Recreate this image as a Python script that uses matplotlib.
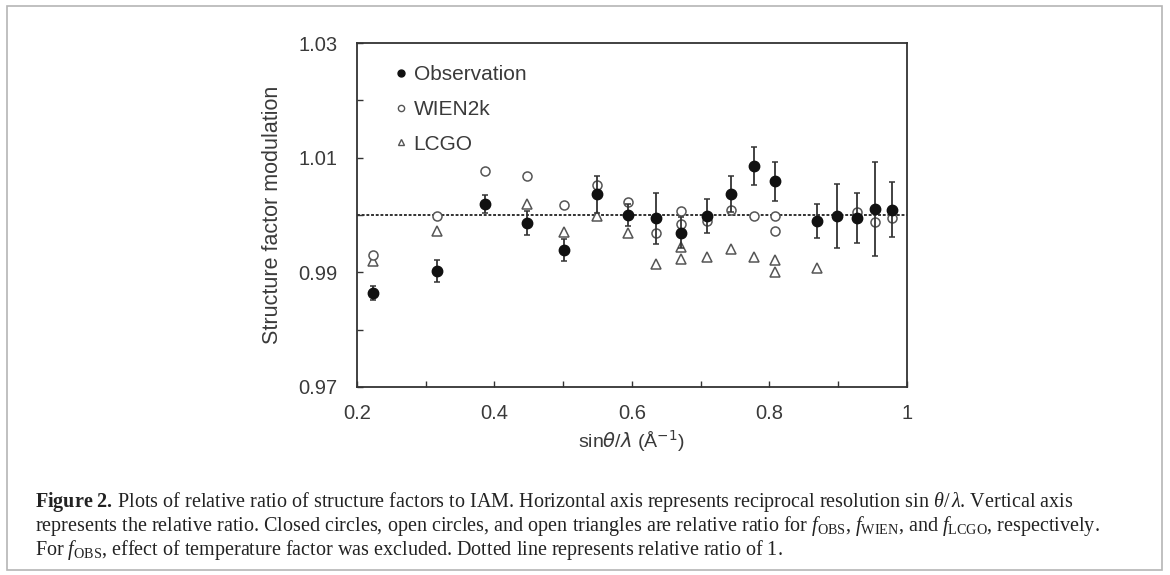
import matplotlib
matplotlib.use("Agg")
import matplotlib.pyplot as plt
from matplotlib.patches import Rectangle
from matplotlib.lines import Line2D
from matplotlib.ticker import FixedLocator, FixedFormatter

plt.rcParams['font.family'] = ['Liberation Sans', 'DejaVu Sans']
plt.rcParams['mathtext.fontset'] = 'custom'
plt.rcParams['mathtext.rm'] = 'Liberation Serif'
plt.rcParams['mathtext.it'] = 'Liberation Serif:italic'
plt.rcParams['mathtext.bf'] = 'Liberation Serif:bold'

# data
x_obs = [0.223, 0.316, 0.387, 0.447, 0.502, 0.549, 0.594, 0.635, 0.672,
         0.710, 0.744, 0.778, 0.809, 0.870, 0.899, 0.927, 0.954, 0.979]
obs = [0.9864, 0.9902, 1.0019, 0.9986, 0.9939, 1.0036, 1.0000, 0.9994, 0.9969,
       0.9998, 1.0037, 1.0085, 1.0059, 0.9990, 0.9998, 0.9995, 1.0010, 1.0009]
obs_err = [0.0012, 0.0019, 0.0016, 0.0021, 0.0020, 0.0033, 0.0019, 0.0044, 0.0027,
           0.0030, 0.0031, 0.0033, 0.0034, 0.0030, 0.0056, 0.0043, 0.0082, 0.0048]

x_wien = [0.223, 0.316, 0.387, 0.447, 0.502, 0.549, 0.594, 0.635, 0.672,
          0.672, 0.710, 0.744, 0.778, 0.809, 0.809, 0.927, 0.954, 0.979]
wien = [0.9930, 0.9999, 1.0076, 1.0069, 1.0017, 1.0052, 1.0023, 0.9968, 1.0007,
        0.9984, 0.9990, 1.0008, 0.9998, 0.9998, 0.9973, 1.0006, 0.9988, 0.9994]

x_lcgo = [0.223, 0.316, 0.447, 0.502, 0.549, 0.594, 0.635, 0.672, 0.672,
          0.710, 0.744, 0.778, 0.809, 0.809, 0.870]
lcgo = [0.9919, 0.9972, 1.0020, 0.9971, 0.9998, 0.9968, 0.9914, 0.9944, 0.9923,
        0.9926, 0.9940, 0.9927, 0.9921, 0.9900, 0.9907]

x_ticks = [0.2, 0.4, 0.6, 0.8, 1.0]
x_ticklabels = ['0.2', '0.4', '0.6', '0.8', '1']
y_ticks = [0.97, 0.99, 1.01, 1.03]
y_ticklabels = ['0.97', '0.99', '1.01', '1.03']

caption = [
    r"$\mathbf{Figure\ 2.}\,$Plots of relative ratio of structure factors to IAM. Horizontal axis represents reciprocal resolution sin $\theta/\,\lambda$. Vertical axis",
    r"represents the relative ratio. Closed circles, open circles, and open triangles are relative ratio for $f_{\rm OBS}$, $f_{\rm WIEN}$, and $f_{\rm LCGO}$, respectively.",
    r"For $f_{\rm OBS}$, effect of temperature factor was excluded. Dotted line represents relative ratio of 1.",
]

txt = '#3a3a3a'
fig = plt.figure(figsize=(11.7, 5.75), dpi=100)
fig.patches.append(Rectangle((0.006, 0.008), 0.987, 0.982, transform=fig.transFigure,
                             fill=False, edgecolor='#b5b5b5', lw=1.2))

ax = fig.add_axes([0.305, 0.327, 0.47, 0.598])

ax.axhline(1.0, color='#222222', lw=1.3, ls=(0, (1.6, 1.0)), zorder=1)
ax.plot(x_lcgo, lcgo, ls='none', marker='^', ms=6.5, mfc='white', mec='#555555',
        mew=1.1, zorder=2)
ax.plot(x_wien, wien, ls='none', marker='o', ms=6.5, mfc='white', mec='#555555',
        mew=1.1, zorder=3)
ax.errorbar(x_obs, obs, yerr=obs_err, fmt='o', ms=7.5, color='#111111',
            ecolor='#333333', elinewidth=1.3, capsize=2.5, capthick=1.1, zorder=4)

ax.set_xlim(0.2, 1.0)
ax.set_ylim(0.97, 1.03)
ax.xaxis.set_major_locator(FixedLocator(x_ticks))
ax.xaxis.set_major_formatter(FixedFormatter(x_ticklabels))
ax.xaxis.set_minor_locator(FixedLocator([0.3, 0.5, 0.7, 0.9]))
ax.yaxis.set_major_locator(FixedLocator(y_ticks))
ax.yaxis.set_major_formatter(FixedFormatter(y_ticklabels))
ax.yaxis.set_minor_locator(FixedLocator([0.98, 1.0, 1.02]))
ax.tick_params(which='both', direction='in', length=4.5, width=1, color='#333333',
               labelsize=14.5, labelcolor=txt)
ax.tick_params(axis='y', which='major', pad=14)
ax.tick_params(axis='x', which='major', pad=12)
for s in ax.spines.values():
    s.set_color('#333333')
    s.set_linewidth(1.3)

ax.set_ylabel('Structure factor modulation', fontsize=15.5, color=txt, labelpad=11)
ax.set_xlabel(r'sin$\it{\theta}$/$\it{\lambda}$ (Å$^{-1}$)', fontsize=14, color=txt,
              labelpad=4, math_fontfamily='dejavusans')

handles = [
    Line2D([], [], ls='none', marker='o', ms=5, color='#111111'),
    Line2D([], [], ls='none', marker='o', ms=4.5, mfc='white', mec='#555555', mew=1),
    Line2D([], [], ls='none', marker='^', ms=4.5, mfc='white', mec='#555555', mew=1),
]
leg = ax.legend(handles, ['Observation', 'WIEN2k', 'LCGO'], loc='upper left',
                bbox_to_anchor=(0.035, 0.99), frameon=False, fontsize=15,
                handlelength=0.6, handletextpad=0.3, labelspacing=0.75)
for t in leg.get_texts():
    t.set_color(txt)

ys = [0.127, 0.085, 0.043]
for line, y in zip(caption, ys):
    fig.text(0.03, y, line, fontsize=14.5, family='Liberation Serif', color='#222222',
             va='center', math_fontfamily='custom')

fig.savefig('out.png', dpi=100, facecolor='white')
